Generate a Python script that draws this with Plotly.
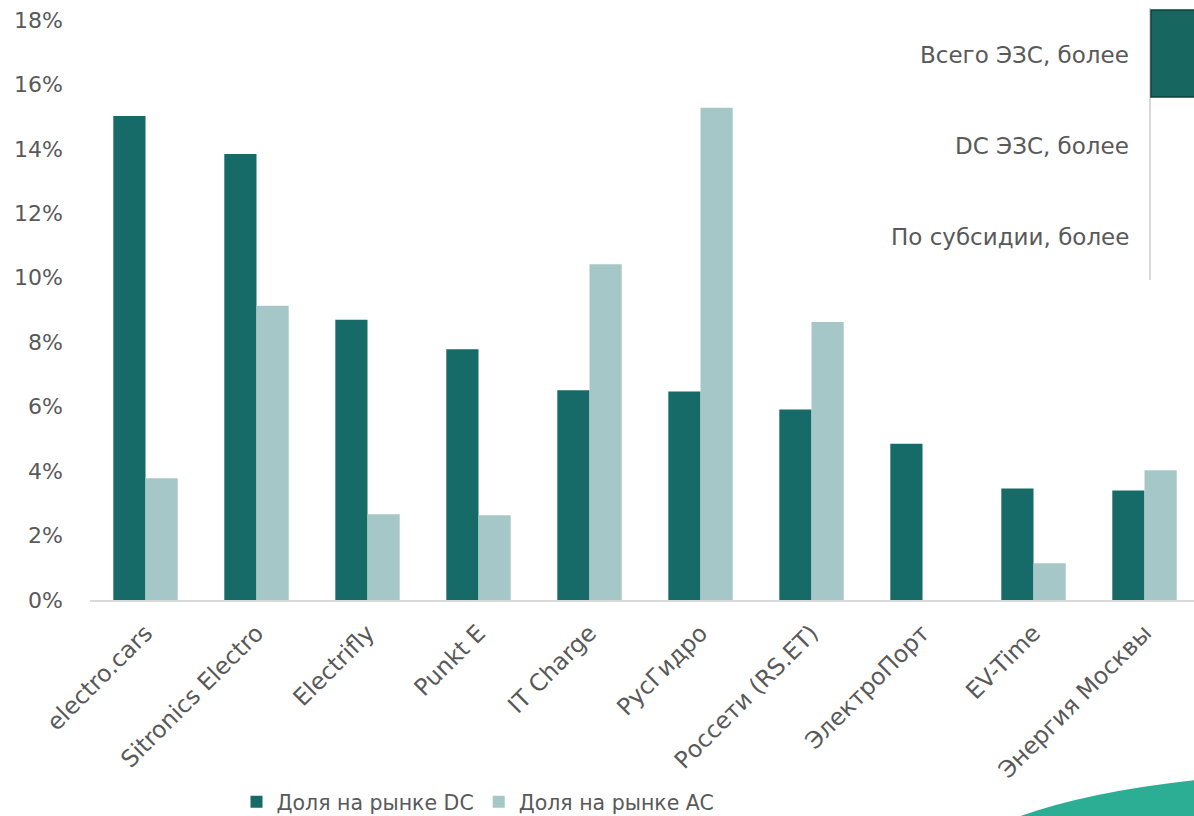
import plotly.graph_objects as go

categories = ["electro.cars", "Sitronics Electro", "Electrifly", "Punkt E", "IT Charge",
              "РусГидро", "Россети (RS.ET)", "ЭлектроПорт", "EV-Time", "Энергия Москвы"]
dc_share = [0.1502, 0.1384, 0.0870, 0.0778, 0.0651, 0.0647, 0.0591, 0.0485, 0.0346, 0.0340]
ac_share = [0.0378, 0.0913, 0.0266, 0.0263, 0.1042, 0.1528, 0.0863, 0.0, 0.0114, 0.0403]
series_names = ["Доля на рынке DC", "Доля на рынке AC"]
panel_labels = ["Всего ЭЗС, более", "DC ЭЗС, более", "По субсидии, более"]

DC_COLOR = "#166A67"
AC_COLOR = "#A6C7C7"
TEXT = "#595959"
FONT = "DejaVu Sans"

W, H = 1194, 816
L, R, T, B = 90, 0, 20, 216
PW, PH = W - L - R, H - T - B


def px(x):
    return (x - L) / PW


def py(y):
    return (H - B - y) / PH


fig = go.Figure()
fig.add_trace(go.Bar(x=categories, y=dc_share, name=series_names[0],
                     marker=dict(color=DC_COLOR, line=dict(width=0))))
fig.add_trace(go.Bar(x=categories, y=ac_share, name=series_names[1],
                     marker=dict(color=AC_COLOR, line=dict(width=0))))

fig.update_layout(
    width=W, height=H,
    margin=dict(l=L, r=R, t=T, b=B, pad=0, autoexpand=False),
    paper_bgcolor="white", plot_bgcolor="white",
    barmode="group", bargap=0.42, bargroupgap=0,
    font=dict(family=FONT, size=20, color=TEXT),
    showlegend=True,
    legend=dict(orientation="h", x=px(478), xanchor="center", y=py(802), yanchor="middle",
                font=dict(size=20.5, color=TEXT), tracegroupgap=0, itemwidth=30,
                bgcolor="rgba(0,0,0,0)"),
    xaxis=dict(range=[-0.5, -0.5 + PW / 111.0], showgrid=False, showline=True,
               linecolor="#D9D9D9", linewidth=2, tickangle=-45, ticks="",
               ticklabelstandoff=8,
               tickfont=dict(size=23.5, color=TEXT), fixedrange=True, automargin=False),
    yaxis=dict(range=[0, 0.18], dtick=0.02, tickformat=".0%", showgrid=False,
               zeroline=False, showline=False, ticks="", ticklabelstandoff=26,
               tickfont=dict(size=22, color=TEXT), fixedrange=True, automargin=False),
)

shapes = []
shapes.append(dict(type="line", xref="paper", yref="paper",
                   x0=px(1150), x1=px(1150), y0=py(280), y1=py(8),
                   line=dict(color="#D9D9D9", width=2)))
shapes.append(dict(type="rect", xref="paper", yref="paper",
                   x0=px(1151), x1=px(1196), y0=py(97), y1=py(10),
                   fillcolor="#17665F", line=dict(color="#0F3F3B", width=1.5)))
shapes.append(dict(type="path", xref="paper", yref="paper",
                   path=(f"M {px(1015)},{py(818)} Q {px(1085)},{py(792)} {px(1196)},{py(780)} "
                         f"L {px(1196)},{py(818)} Z"),
                   fillcolor="#2BAE94", line=dict(width=0)))
fig.update_layout(shapes=shapes)

for lbl, yy in zip(panel_labels, [55, 146, 237]):
    fig.add_annotation(text=lbl, xref="paper", yref="paper", x=px(1131), y=py(yy),
                       xanchor="right", yanchor="middle", showarrow=False,
                       font=dict(size=23, color=TEXT, family=FONT))

fig.write_html("out.html", config={"displayModeBar": False},
               post_script="document.body.style.margin='0';document.body.style.overflow='hidden';")
